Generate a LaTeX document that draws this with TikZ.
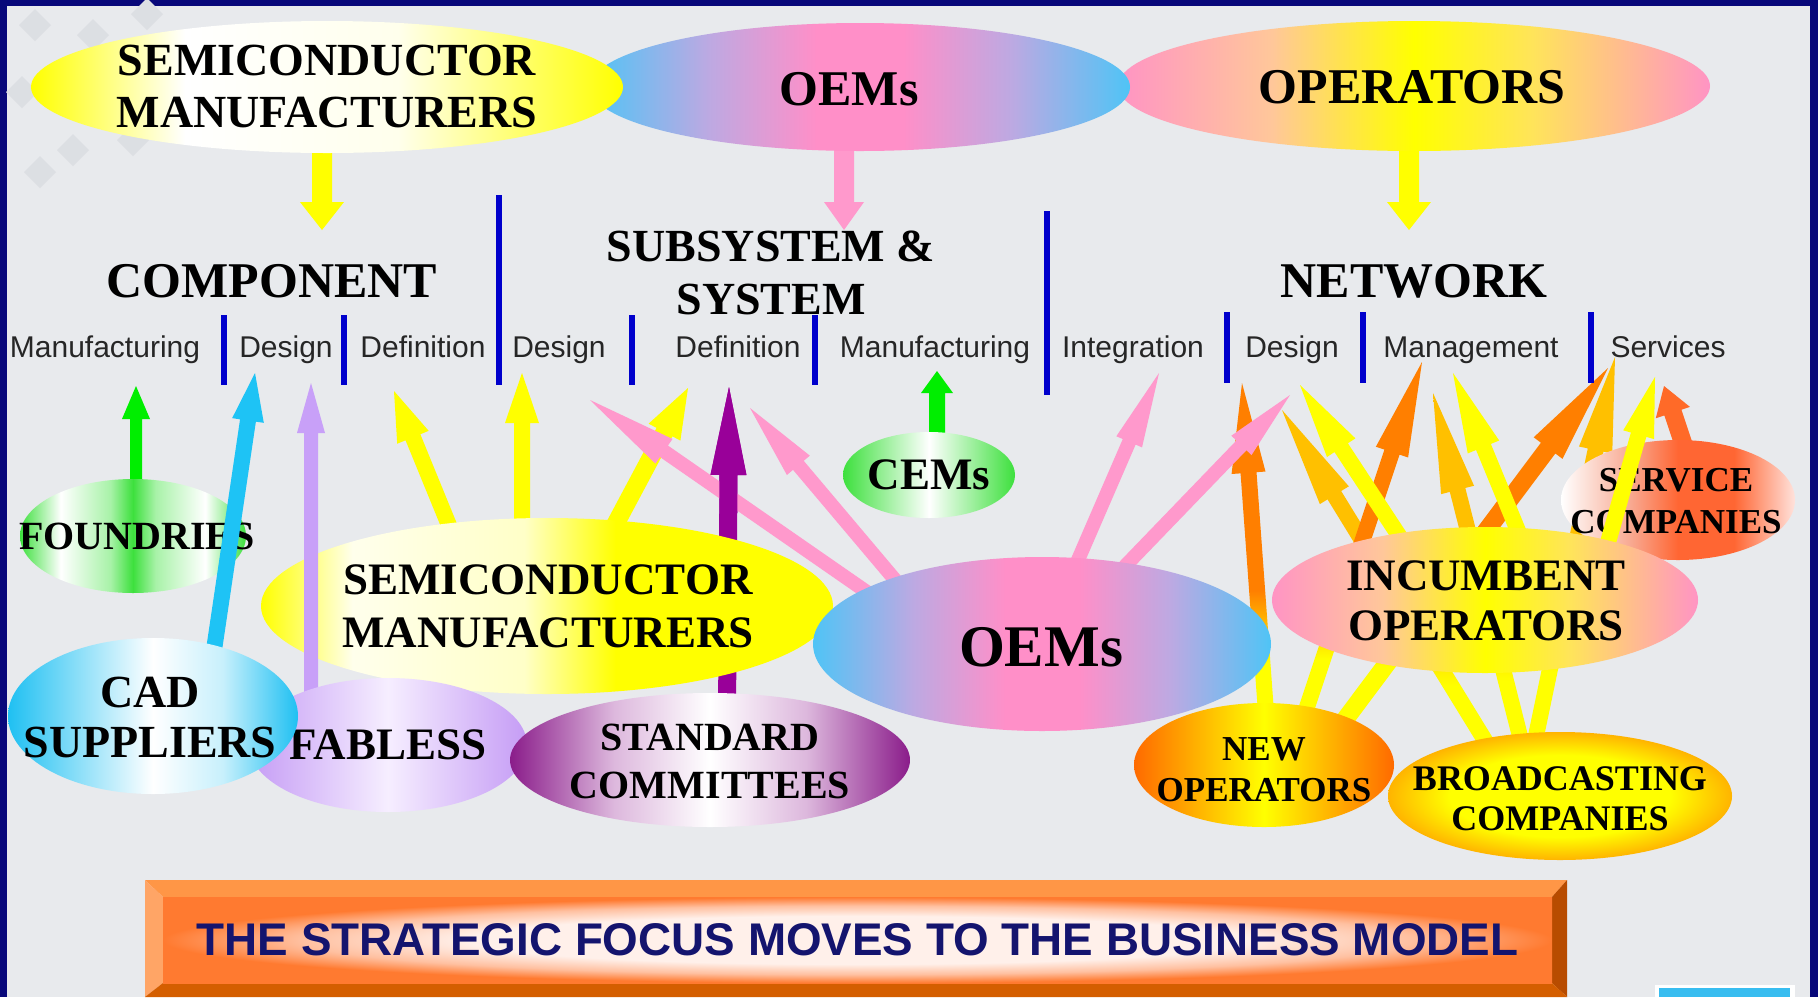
\documentclass[tikz,border=0pt]{standalone}
\usepackage{fontspec}
\setmainfont{Liberation Serif}
\newfontfamily\arialf{Liberation Sans}
\usetikzlibrary{shapes.geometric,calc}
\definecolor{navy}{HTML}{08087A}
\definecolor{panel}{HTML}{E8EAED}
\definecolor{dia}{HTML}{DCDFE3}
\definecolor{barblue}{HTML}{0000CC}
\definecolor{yel}{HTML}{FFFF00}
\definecolor{yelW}{HTML}{FFFFEC}
\definecolor{yelL}{HTML}{FFFFC8}
\definecolor{pnk}{HTML}{FF99CC}
\definecolor{oemC}{HTML}{4FC4F6}
\definecolor{oemL}{HTML}{BDA9E2}
\definecolor{oemP}{HTML}{FF8FC8}
\definecolor{opP}{HTML}{FF94C4}
\definecolor{opO}{HTML}{FFC79A}
\definecolor{opY}{HTML}{FFE45A}
\definecolor{grn}{HTML}{3DE03D}
\definecolor{grnL}{HTML}{A8F2A8}
\definecolor{white}{HTML}{FFFFFF}
\definecolor{arrG}{HTML}{00EE00}
\definecolor{cad}{HTML}{1FC0F2}
\definecolor{cadL}{HTML}{C8F0FC}
\definecolor{fab}{HTML}{C59CF5}
\definecolor{fabL}{HTML}{F6EEFF}
\definecolor{pur}{HTML}{8A1C8A}
\definecolor{purL}{HTML}{DDB8DD}
\definecolor{arrP}{HTML}{990099}
\definecolor{arrL}{HTML}{C8A0F8}
\definecolor{arrC}{HTML}{1EC3F5}
\definecolor{servM}{HTML}{F8A890}
\definecolor{servO}{HTML}{FF6633}
\definecolor{servR}{HTML}{FFE2DC}
\definecolor{newO}{HTML}{FF6A00}
\definecolor{brO}{HTML}{FFB400}
\definecolor{orgA}{HTML}{FF7F00}
\definecolor{gld}{HTML}{FFC000}
\definecolor{redO}{HTML}{FF6A28}
\definecolor{banTop}{HTML}{FF9646}
\definecolor{banLeft}{HTML}{FFA566}
\definecolor{banRight}{HTML}{B84C00}
\definecolor{banBot}{HTML}{D45E00}
\definecolor{banO}{HTML}{FF7A30}
\definecolor{banM}{HTML}{FFC0A0}
\definecolor{banW}{HTML}{FFF0EA}
\definecolor{bantext}{HTML}{14146E}
\definecolor{logo}{HTML}{38BDF0}

\pgfdeclarehorizontalshading{shSemiTop}{100bp}{color(0bp)=(yel); color(25bp)=(yel); color(38bp)=(white); color(56bp)=(yelW); color(75bp)=(yel); color(100bp)=(yel)}
\pgfdeclarehorizontalshading{shSemiBot}{100bp}{color(0bp)=(yel); color(25bp)=(yel); color(33bp)=(yelW); color(48bp)=(yelL); color(56bp)=(yel); color(100bp)=(yel)}
\pgfdeclarehorizontalshading{shOem}{100bp}{color(0bp)=(oemC); color(25bp)=(oemC); color(36bp)=(oemL); color(46bp)=(oemP); color(54bp)=(oemP); color(64bp)=(oemL); color(75bp)=(oemC); color(100bp)=(oemC)}
\pgfdeclarehorizontalshading{shOper}{100bp}{color(0bp)=(opP); color(25bp)=(opP); color(38bp)=(opO); color(50bp)=(yel); color(60bp)=(opY); color(75bp)=(opP); color(100bp)=(opP)}
\pgfdeclarehorizontalshading{shFound}{100bp}{color(0bp)=(grn); color(25bp)=(grn); color(34bp)=(white); color(45bp)=(grnL); color(50bp)=(grn); color(55bp)=(grnL); color(66bp)=(white); color(75bp)=(grn); color(100bp)=(grn)}
\pgfdeclarehorizontalshading{shCem}{100bp}{color(0bp)=(grn); color(25bp)=(grn); color(50bp)=(white); color(75bp)=(grn); color(100bp)=(grn)}
\pgfdeclarehorizontalshading{shCad}{100bp}{color(0bp)=(cad); color(25bp)=(cad); color(50bp)=(white); color(62bp)=(cadL); color(75bp)=(cad); color(100bp)=(cad)}
\pgfdeclarehorizontalshading{shFab}{100bp}{color(0bp)=(fab); color(25bp)=(fab); color(50bp)=(fabL); color(75bp)=(fab); color(100bp)=(fab)}
\pgfdeclarehorizontalshading{shStd}{100bp}{color(0bp)=(pur); color(25bp)=(pur); color(38bp)=(purL); color(50bp)=(white); color(62bp)=(purL); color(75bp)=(pur); color(100bp)=(pur)}
\pgfdeclarehorizontalshading{shServ}{100bp}{color(0bp)=(white); color(25bp)=(white); color(40bp)=(servM); color(50bp)=(servO); color(62bp)=(servO); color(75bp)=(servR); color(100bp)=(servR)}
\pgfdeclarehorizontalshading{shNew}{100bp}{color(0bp)=(newO); color(25bp)=(newO); color(50bp)=(yel); color(75bp)=(newO); color(100bp)=(newO)}
\pgfdeclareradialshading{shBroad}{\pgfpoint{0bp}{0bp}}{color(0bp)=(yel); color(16bp)=(yel); color(25bp)=(brO); color(50bp)=(brO)}
\pgfdeclareradialshading{shBan}{\pgfpoint{0bp}{0bp}}{color(0bp)=(banW); color(14bp)=(banW); color(20bp)=(banM); color(25bp)=(banO); color(50bp)=(banO)}
\pgfdeclareverticalshading{toorange}{100bp}{color(0bp)=(yel); color(36bp)=(yel); color(46bp)=(orgA); color(100bp)=(orgA)}
\pgfdeclareverticalshading{togold}{100bp}{color(0bp)=(yel); color(36bp)=(yel); color(46bp)=(gld); color(100bp)=(gld)}

\pgfdeclarelayer{bg}
\pgfdeclarelayer{back}
\pgfdeclarelayer{ellA}
\pgfdeclarelayer{mid}
\pgfsetlayers{bg,back,ellA,mid,main}

% block arrow: style, from, to, shaft half width, head half width, head length
\newcommand{\bkarrow}[6]{%
  \coordinate (bh) at ($(#3)!#6!(#2)$);
  \path[#1] ($(#2)!#4!90:(#3)$) -- ($(bh)!#4!90:(#3)$) -- ($(bh)!#5!90:(#3)$) -- (#3)
    -- ($(bh)!#5!-90:(#3)$) -- ($(bh)!#4!-90:(#3)$) -- ($(#2)!#4!-90:(#3)$) -- cycle;}

\tikzset{
  ell/.style={ellipse, inner sep=0pt, shade, draw=none},
  ts/.style n args={2}{font=\bfseries\fontsize{#1}{#2}\selectfont, align=center, inner sep=0pt, text=black},
  sub/.style={font=\arialf\fontsize{30}{30}\selectfont, anchor=base, inner sep=0pt, text=black!85},
  bar/.style={draw=barblue, line width=6pt},
}

\begin{document}
\begin{tikzpicture}[x=1pt,y=-1pt]
\useasboundingbox (0,0) rectangle (1818,997);

\begin{pgfonlayer}{bg}
  \fill[navy] (0,0) rectangle (1818,997);
  \fill[panel] (7,6) rectangle (1810,997);
  \foreach \px/\py in {35/25, 93/35, 147/14, 22/92, 73/150, 133/140, 40/172} {
    \fill[dia] (\px,\py) ++(0,-16) -- ++(16,16) -- ++(-16,16) -- ++(-16,-16) -- cycle;}
\end{pgfonlayer}

% ---------- top ellipses ----------
\node[ell, shading=shOper, minimum width=592pt, minimum height=130pt] (operT) at (1414,86) {};
\node[ell, shading=shOem, minimum width=540pt, minimum height=128pt] (oemT) at (860,87) {};
\node[ell, shading=shSemiTop, minimum width=592pt, minimum height=132pt] (semiT) at (327,87) {};
\node[ts={46}{52}] (semiTt) at (327,86) {SEMICONDUCTOR\\MANUFACTURERS};
\node[ts={50}{50}] (oemTt) at (849,89) {OEMs};
\node[ts={50}{50}] (operTt) at (1412,87) {OPERATORS};

% ---------- headings ----------
\node[ts={50}{50}] (hcomp) at (272,281) {COMPONENT};
\node[ts={46}{53}] (hsub) at (771,273) {SUBSYSTEM \&\\SYSTEM};
\node[ts={50}{50}] (hnet) at (1414,281) {NETWORK};

% ---------- sub labels ----------
\node[sub] (lmanuA) at (105,357) {Manufacturing};
\node[sub] (ldesA) at (286,357) {Design};
\node[sub] (ldefA) at (423,357) {Definition};
\node[sub] (ldesB) at (559,357) {Design};
\node[sub] (ldefB) at (738,357) {Definition};
\node[sub] (lmanuB) at (935,357) {Manufacturing};
\node[sub] (linteg) at (1133,357) {Integration};
\node[sub] (ldesC) at (1292,357) {Design};
\node[sub] (lmgmt) at (1471,357) {Management};
\node[sub] (lserv) at (1668,357) {Services};

% ---------- blue bars ----------
\draw[bar] (224,315) -- (224,385);
\draw[bar] (344,315) -- (344,385);
\draw[bar] (499,195) -- (499,385);
\draw[bar] (632,315) -- (632,385);
\draw[bar] (815,315) -- (815,385);
\draw[bar] (1047,211) -- (1047,395);
\draw[bar] (1227,312) -- (1227,383);
\draw[bar] (1363,312) -- (1363,383);
\draw[bar] (1591,312) -- (1591,383);

% ---------- coordinates of connector ends ----------
\coordinate (semiT-b) at (322,140);  \coordinate (hcomp-t) at (322,230);
\coordinate (oemT-b) at (844,140);   \coordinate (hsub-t) at (844,230);
\coordinate (operT-b) at (1409,140); \coordinate (hnet-t) at (1409,230);
\coordinate (found-b) at (136,520);  \coordinate (lmanuA-t) at (136,386);
\coordinate (cad-b) at (214,650);    \coordinate (ldesA-t1) at (255,373);
\coordinate (fab-b) at (311,705);    \coordinate (ldesA-t2) at (311,383);
\coordinate (semiB-b1) at (455,540); \coordinate (ldefA-t) at (394,391);
\coordinate (semiB-b2) at (522,540); \coordinate (ldesB-t1) at (522,373);
\coordinate (semiB-b3) at (607,540); \coordinate (ldefB-t1) at (688,388);
\coordinate (std-b) at (727,720);    \coordinate (ldefB-t2) at (729,387);
\coordinate (oemB-b1) at (900,615);  \coordinate (ldesB-t2) at (590,400);
\coordinate (oemB-b2) at (912,600);  \coordinate (ldefB-t3) at (750,408);
\coordinate (cem-b) at (937,450);    \coordinate (lmanuB-t) at (937,371);
\coordinate (oemB-b3) at (1065,590); \coordinate (linteg-t) at (1159,373);
\coordinate (oemB-b4) at (1102,590); \coordinate (ldesC-t1) at (1290,395);
\coordinate (broad-b1) at (1497,760); \coordinate (ldesC-t2) at (1282,410);
\coordinate (broad-b2) at (1526,760); \coordinate (lmgmt-t1) at (1433,393);
\coordinate (broad-b3) at (1531,760); \coordinate (lserv-t1) at (1615,357);
\coordinate (newop-b1) at (1268,740); \coordinate (ldesC-t3) at (1242,383);
\coordinate (newop-b2) at (1296,740); \coordinate (lmgmt-t2) at (1422,362);
\coordinate (newop-b3) at (1326,745); \coordinate (lserv-t2) at (1608,368);
\coordinate (inc-b1) at (1415,560);   \coordinate (ldesC-t4) at (1300,385);
\coordinate (inc-b2) at (1530,560);   \coordinate (lmgmt-t3) at (1453,373);
\coordinate (inc-b3) at (1603,560);   \coordinate (lserv-t4) at (1655,377);
\coordinate (serv-b) at (1692,470);   \coordinate (lserv-t3) at (1664,386);

% ---------- arrows behind everything ----------
\begin{pgfonlayer}{back}
  \bkarrow{fill=yel}{semiT-b}{hcomp-t}{10pt}{22pt}{28pt}
  \bkarrow{fill=pnk}{oemT-b}{hsub-t}{10pt}{20pt}{28pt}
  \bkarrow{fill=yel}{operT-b}{hnet-t}{10pt}{22pt}{28pt}
  \bkarrow{fill=arrG}{found-b}{lmanuA-t}{6pt}{14pt}{33pt}
  \bkarrow{fill=yel}{semiB-b1}{ldefA-t}{8pt}{17pt}{50pt}
  \bkarrow{fill=yel}{semiB-b2}{ldesB-t1}{8pt}{17pt}{50pt}
  \bkarrow{fill=yel}{semiB-b3}{ldefB-t1}{9pt}{18pt}{50pt}
  \bkarrow{fill=arrP}{std-b}{ldefB-t2}{9pt}{18pt}{88pt}
  \bkarrow{fill=arrG}{cem-b}{lmanuB-t}{8pt}{16pt}{22pt}
  \bkarrow{shade,shading=togold}{broad-b1}{ldesC-t2}{8pt}{17pt}{100pt}
  \bkarrow{shade,shading=togold}{broad-b2}{lmgmt-t1}{8pt}{17pt}{100pt}
  \bkarrow{shade,shading=togold}{broad-b3}{lserv-t1}{8pt}{17pt}{95pt}
  \bkarrow{shade,shading=toorange}{newop-b1}{ldesC-t3}{8pt}{17pt}{90pt}
  \bkarrow{shade,shading=toorange}{newop-b2}{lmgmt-t2}{8pt}{17pt}{95pt}
  \bkarrow{shade,shading=toorange}{newop-b3}{lserv-t2}{9pt}{18pt}{100pt}
  \bkarrow{fill=yel}{inc-b1}{ldesC-t4}{8pt}{17pt}{75pt}
  \bkarrow{fill=yel}{inc-b2}{lmgmt-t3}{8pt}{17pt}{80pt}
  \bkarrow{fill=redO}{serv-b}{lserv-t3}{9pt}{18pt}{28pt}
  \bkarrow{fill=pnk}{oemB-b3}{linteg-t}{7pt}{14pt}{75pt}
  \bkarrow{fill=pnk}{oemB-b4}{ldesC-t1}{7pt}{14pt}{70pt}
\end{pgfonlayer}

% ---------- ellipses in the lower stack ----------
\begin{pgfonlayer}{ellA}
  \node[ell, shading=shFound, minimum width=226pt, minimum height=114pt] (found) at (133,536) {};
  \node[ts={40}{40}] (foundt) at (137,536) {FOUNDRIES};
  \node[ell, shading=shSemiBot, minimum width=572pt, minimum height=176pt] (semiB) at (547,606) {};
  \node[ts={45}{53}] (semiBt) at (548,606) {SEMICONDUCTOR\\MANUFACTURERS};
  \node[ell, shading=shServ, minimum width=234pt, minimum height=120pt] (serv) at (1678,500) {};
  \node[ts={35}{42}] (servt) at (1676,501) {SERVICE\\COMPANIES};
\end{pgfonlayer}

% ---------- arrows over the lower stack ----------
\begin{pgfonlayer}{mid}
  \bkarrow{fill=arrC}{cad-b}{ldesA-t1}{8pt}{16pt}{48pt}
  \bkarrow{fill=arrL}{fab-b}{ldesA-t2}{7pt}{14pt}{50pt}
  \bkarrow{fill=pnk}{oemB-b1}{ldesB-t2}{7pt}{15pt}{90pt}
  \bkarrow{fill=pnk}{oemB-b2}{ldefB-t3}{7pt}{15pt}{75pt}
  \begin{scope}
    \clip (0,0) rectangle (1818,512);
    \bkarrow{fill=arrP}{std-b}{ldefB-t2}{9pt}{18pt}{88pt}
  \end{scope}
  \bkarrow{fill=yel}{inc-b3}{lserv-t4}{8pt}{16pt}{60pt}
\end{pgfonlayer}

% ---------- front ellipses ----------
\node[ell, shading=shFab, minimum width=278pt, minimum height=134pt] (fab) at (388,745) {};
\node[ts={45}{45}] (fabt) at (388,745) {FABLESS};
\node[ell, shading=shCad, minimum width=290pt, minimum height=156pt] (cad) at (153,716) {};
\node[ts={46}{50}] (cadt) at (150,717) {CAD\\SUPPLIERS};
\node[ell, shading=shOem, minimum width=458pt, minimum height=174pt] (oemB) at (1042,644) {};
\node[ts={59}{59}] (oemBt) at (1041,647) {OEMs};
\node[ell, shading=shStd, minimum width=400pt, minimum height=134pt] (std) at (710,760) {};
\node[ts={40}{48}] (stdt) at (710,761) {STANDARD\\COMMITTEES};
\node[ell, shading=shCem, minimum width=172pt, minimum height=86pt] (cem) at (929,475) {};
\node[ts={45}{45}] (cemt) at (929,475) {CEMs};
\node[ell, shading=shOper, minimum width=426pt, minimum height=146pt] (inc) at (1485,600) {};
\node[ts={45}{50}] (inct) at (1486,601) {INCUMBENT\\OPERATORS};
\node[ell, shading=shNew, minimum width=260pt, minimum height=124pt] (newop) at (1264,765) {};
\node[ts={35}{41}] (newopt) at (1264,770) {NEW\\OPERATORS};
\node[ell, shading=shBroad, minimum width=344pt, minimum height=128pt] (broad) at (1560,796) {};
\node[ts={36}{40}] (broadt) at (1560,799) {BROADCASTING\\COMPANIES};

% ---------- banner ----------
\fill[banTop] (145,880) -- (1567,880) -- (1552,897) -- (163,897) -- cycle;
\fill[banLeft] (145,880) -- (163,897) -- (163,983) -- (145,997) -- cycle;
\fill[banRight] (1567,880) -- (1567,997) -- (1552,983) -- (1552,897) -- cycle;
\fill[banBot] (145,997) -- (163,983) -- (1552,983) -- (1567,997) -- cycle;
\node[rectangle, shade, shading=shBan, minimum width=1389pt, minimum height=86pt, inner sep=0pt,
      font=\arialf\bfseries\fontsize{45.8}{45.8}\selectfont, text=bantext] (banner) at (857.5,940) {THE STRATEGIC FOCUS MOVES TO THE BUSINESS MODEL};

% ---------- logo corner ----------
\fill[white] (1655,985) rectangle (1795,997);
\fill[logo] (1659,988) rectangle (1790,997);
\end{tikzpicture}
\end{document}
